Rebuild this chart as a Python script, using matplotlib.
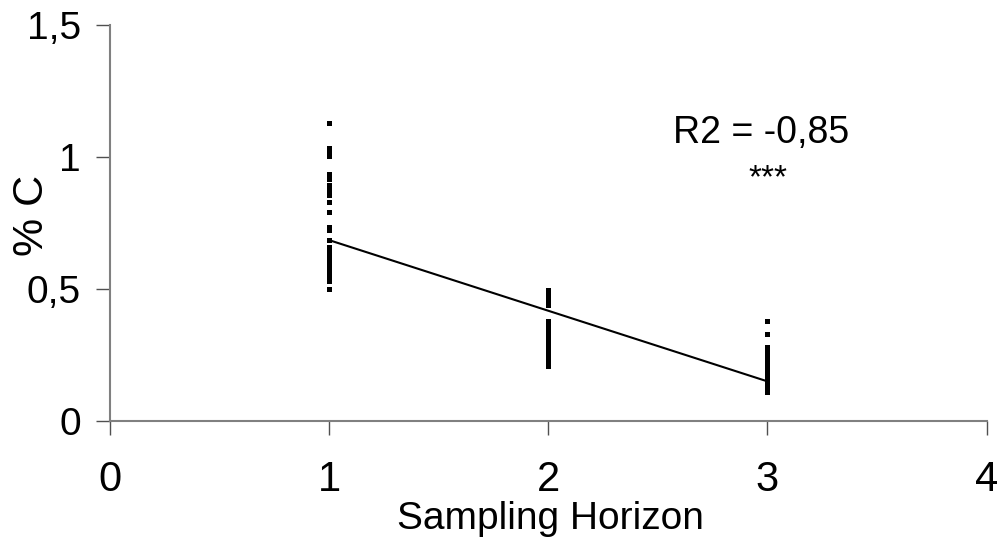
import matplotlib
matplotlib.use("Agg")
import matplotlib.pyplot as plt

# %C values per sampling horizon
h1 = [1.13, 1.035, 1.025, 1.015, 1.005, 0.935, 0.915, 0.895, 0.875, 0.855, 0.83,
      0.79, 0.735, 0.725, 0.685, 0.66, 0.65, 0.64, 0.63, 0.62, 0.61, 0.60, 0.59,
      0.58, 0.57, 0.56, 0.545, 0.53, 0.50]
h2 = [0.495, 0.48, 0.465, 0.45, 0.44, 0.38, 0.37, 0.36, 0.35, 0.34, 0.33, 0.32,
      0.31, 0.30, 0.29, 0.28, 0.27, 0.26, 0.25, 0.24, 0.23, 0.22, 0.21]
h3 = [0.38, 0.33, 0.28, 0.26, 0.25, 0.24, 0.23, 0.22, 0.21, 0.20, 0.19, 0.18,
      0.17, 0.16, 0.15, 0.14, 0.13, 0.12, 0.11]

# regression line
fit_x = [1, 3]
fit_y = [0.685, 0.15]

xticks = [0, 1, 2, 3, 4]
yticks = [0, 0.5, 1, 1.5]
ytick_labels = ['0', '0,5', '1', '1,5']

plt.rcParams['font.family'] = ['Liberation Sans', 'DejaVu Sans']

fig = plt.figure(figsize=(10.03, 5.40), dpi=100)
ax = fig.add_axes([0.1097, 0.2204, 0.874, 0.7333])

for xv, ys in zip([1, 2, 3], [h1, h2, h3]):
    ax.plot([xv] * len(ys), ys, 's', color='black', markersize=3.6, markeredgewidth=0)

ax.plot(fit_x, fit_y, color='black', linewidth=1.5)

ax.set_xlim(0, 4)
ax.set_ylim(0, 1.5)
ax.set_xticks(xticks)
ax.set_xticklabels([str(v) for v in xticks])
ax.set_yticks(yticks)
ax.set_yticklabels(ytick_labels)

for s in ['top', 'right']:
    ax.spines[s].set_visible(False)
for s in ['left', 'bottom']:
    ax.spines[s].set_color('#808080')
    ax.spines[s].set_linewidth(1.5)

ax.tick_params(axis='x', direction='out', length=10, width=1, color='#505050',
               labelsize=30, pad=18)
ax.tick_params(axis='y', direction='out', length=10, width=1, color='#505050',
               labelsize=28, pad=11)

ax.set_xlabel('Sampling Horizon', fontsize=28, va='baseline')
ax.xaxis.set_label_coords(0.502, -0.272)
ax.set_ylabel('% C', fontsize=31, va='center')
ax.yaxis.set_label_coords(-0.089, 0.518)

ax.text(2.97, 1.09, 'R2 = -0,85', fontsize=27, ha='center', va='center')
ax.text(3.0, 0.917, '***', fontsize=24, ha='center', va='center')

fig.savefig('out.png', dpi=100)
